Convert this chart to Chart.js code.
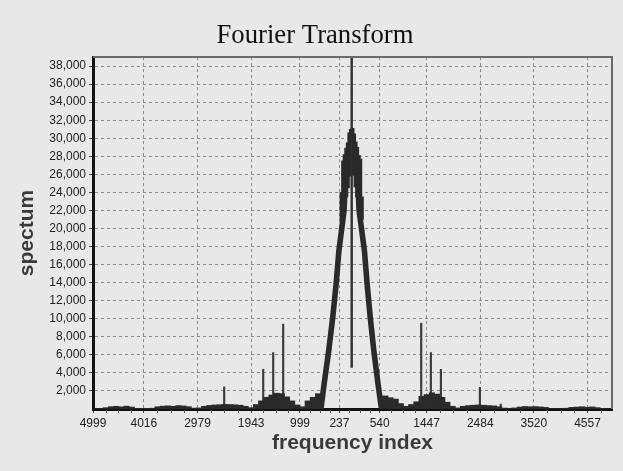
<!DOCTYPE html>
<html>
<head>
<meta charset="utf-8">
<script src="https://cdn.jsdelivr.net/npm/chart.js@4.4.1/dist/chart.umd.min.js"></script>
<style>
    html, body { margin: 0; padding: 0; background: #e8e8e8; }
</style>
</head>
<body>
<canvas id="chart" width="623" height="471"></canvas>
<script>
// --- Data ---
// x is a signed frequency index (left half = negative), labels show |index|
const xTickIdx = [-4999, -4016, -2979, -1943, -999, -237, 540, 1447, 2484, 3520, 4557];
const xTickLabels = ['4999', '4016', '2979', '1943', '999', '237', '540', '1447', '2484', '3520', '4557'];
const yTickVals = [2000, 4000, 6000, 8000, 10000, 12000, 14000, 16000, 18000, 20000,
    22000, 24000, 26000, 28000, 30000, 32000, 34000, 36000, 38000];

// noise floor: bins of 100 index, height = envelope of the spectrum
const floorIdx = [
    -4950, -4850, -4750, -4650, -4550, -4450, -4350, -4250, -4150, -4050,
    -3950, -3850, -3750, -3650, -3550, -3450, -3350, -3250, -3150, -3050,
    -2950, -2850, -2750, -2650, -2550, -2450, -2350, -2250, -2150, -2050,
    -1950, -1850, -1750, -1650, -1550, -1450, -1350, -1250, -1150, -1050,
    -950, -850, -750, -650,
    650, 750, 850, 950, 1050, 1150, 1250, 1350, 1450, 1550, 1650,
    1750, 1850, 1950, 2050, 2150, 2250, 2350, 2450, 2550, 2650,
    2750, 2850, 2950, 3050, 3150, 3250, 3350, 3450, 3550, 3650,
    3750, 3850, 3950, 4050, 4150, 4250, 4350, 4450, 4550, 4650,
    4750, 4850, 4950
];
const floorPeak = [
    40, 60, 150, 260, 300, 240, 320, 220, 80, 60,
    70, 90, 250, 320, 350, 300, 380, 340, 260, 100,
    120, 300, 400, 450, 480, 520, 500, 470, 420, 300,
    150, 500, 900, 1300, 1550, 1750, 1700, 1350, 900, 450,
    250, 900, 1300, 1700,
    1450, 1250, 1100, 600, 300, 500, 800, 1400, 1600, 1800, 1650,
    1300, 750, 300, 120, 300, 380, 420, 450, 420, 380,
    350, 250, 100, 80, 120, 220, 280, 250, 270, 230,
    180, 60, 50, 70, 90, 180, 220, 250, 200, 230,
    150, 60, 40
];

// flanks of the main lobe (centre of the thick noisy trace)
const leftWallIdx = [-595, -532, -444, -367, -300, -247, -148, -124];
const leftWallVal = [0, 2820, 6480, 10130, 13900, 17550, 21980, 25000];
const rightWallIdx = [576, 508, 427, 359, 297, 246, 143, 122];
const rightWallVal = [0, 2820, 6480, 10130, 13900, 17550, 21980, 25000];

// top of the lobe: bins of 30 index, min and max of the trace
const capIdx = [-210, -180, -150, -120, -90, -60, -30, 30, 60, 90, 120, 150, 180, 210];
const capLow = [21000, 22000, 22500, 23000, 23500, 24500, 25800, 25900, 24600, 23500, 23000, 22500, 22000, 21000];
const capHigh = [24000, 27500, 28200, 28900, 29500, 30600, 31000, 31100, 30500, 29600, 29000, 28100, 27700, 23500];

// narrow tones
const spikeIdx = [-2464, -1710, -1517, -1324, 1343, 1530, 1724, 2477, 2880];
const spikePeak = [2450, 4400, 6250, 9400, 9500, 6250, 4400, 2400, 550];

// DC line in the middle
const dcIdx = [0];
const dcLow = [4600];
const dcHigh = [39000];

// --- Helpers ---
function fmtThousands(v) {
    return String(v).replace(/\B(?=(\d{3})+(?!\d))/g, ',');
}

const TRACE = '#2a2a2a';

const chartFrame = {
    id: 'chartFrame',
    beforeDraw(chart) {
        const ctx = chart.ctx;
        ctx.save();
        ctx.fillStyle = '#e8e8e8';
        ctx.fillRect(0, 0, chart.width, chart.height);
        ctx.restore();
    },
    afterDraw(chart) {
        const { ctx, chartArea: a } = chart;
        const xs = chart.scales.x;
        ctx.save();
        // top / right outline of the plot
        ctx.strokeStyle = '#6a6a6a';
        ctx.lineWidth = 2;
        ctx.beginPath();
        ctx.moveTo(a.left, a.top);
        ctx.lineTo(a.right, a.top);
        ctx.lineTo(a.right, a.bottom);
        ctx.stroke();

        // minor tick marks under the x axis
        ctx.strokeStyle = '#555';
        ctx.lineWidth = 1;
        const px = xTickIdx.map(v => xs.getPixelForValue(v));
        ctx.beginPath();
        for (let i = 0; i < px.length - 1; i++) {
            const step = (px[i + 1] - px[i]) / 4;
            for (let k = 1; k < 4; k++) {
                const x = Math.round(px[i] + step * k) + 0.5;
                ctx.moveTo(x, a.bottom + 1);
                ctx.lineTo(x, a.bottom + 4);
            }
        }
        const last = (px[px.length - 1] - px[px.length - 2]) / 4;
        for (let x = px[px.length - 1] + last; x < a.right; x += last) {
            ctx.moveTo(Math.round(x) + 0.5, a.bottom + 1);
            ctx.lineTo(Math.round(x) + 0.5, a.bottom + 4);
        }
        ctx.stroke();
        ctx.restore();
    }
};

const tickFont = { family: "'Liberation Sans', Arial, sans-serif", size: 12 };
const axisTitleFont = { family: "'Liberation Sans', Arial, sans-serif", size: 21, weight: 'bold' };

function wallSet(idx, val) {
    return {
        type: 'line',
        data: idx.map((x, i) => ({ x, y: val[i] })),
        borderColor: TRACE,
        borderWidth: 5.6,
        borderJoinStyle: 'round',
        pointRadius: 0,
        tension: 0,
        fill: false,
        clip: 0
    };
}

new Chart(document.getElementById('chart'), {
    type: 'bar',
    data: {
        datasets: [
            {
                label: 'floor',
                data: floorIdx.map((x, i) => ({ x, y: [0, floorPeak[i]] })),
                backgroundColor: TRACE,
                barThickness: 5.4,
                stack: 'trace',
                clip: 0
            },
            wallSet(leftWallIdx, leftWallVal),
            wallSet(rightWallIdx, rightWallVal),
            {
                label: 'cap',
                data: capIdx.map((x, i) => ({ x, y: [capLow[i], capHigh[i]] })),
                backgroundColor: TRACE,
                barThickness: 1.8,
                stack: 'trace',
                clip: 0
            },
            {
                label: 'tones',
                data: spikeIdx.map((x, i) => ({ x, y: [0, spikePeak[i]] })),
                backgroundColor: '#3c3c3c',
                barThickness: 1.5,
                stack: 'trace',
                clip: 0
            },
            {
                label: 'dc',
                data: dcIdx.map((x, i) => ({ x, y: [dcLow[i], dcHigh[i]] })),
                backgroundColor: '#333',
                barThickness: 1.8,
                stack: 'trace',
                clip: 0
            }
        ]
    },
    options: {
        responsive: false,
        animation: false,
        events: [],
        layout: { padding: { left: 18, right: 11, top: 0, bottom: 0 } },
        plugins: {
            legend: { display: false },
            tooltip: { enabled: false },
            title: {
                display: true,
                text: 'Fourier Transform',
                color: '#111',
                font: { family: "'Liberation Serif', 'DejaVu Serif', serif", size: 26.7, weight: 'normal' },
                padding: { top: 20, bottom: 5 }
            }
        },
        scales: {
            x: {
                type: 'linear',
                min: -4999,
                max: 5030,
                offset: false,
                afterBuildTicks: scale => {
                    scale.ticks = xTickIdx.map(v => ({ value: v }));
                },
                afterFit: scale => { scale.height = 62; },
                ticks: {
                    autoSkip: false,
                    maxRotation: 0,
                    padding: 3,
                    color: '#222',
                    font: tickFont,
                    callback: (v, i) => xTickLabels[i]
                },
                grid: {
                    offset: false,
                    color: '#8a8a8a',
                    tickColor: '#444',
                    tickLength: 4,
                    tickBorderDash: []
                },
                border: { color: '#111', width: 3, dash: [3, 3] },
                title: {
                    display: true,
                    text: 'frequency index',
                    color: '#3a3a3a',
                    font: axisTitleFont,
                    padding: { top: 0, bottom: 15 }
                }
            },
            y: {
                min: 0,
                max: 39000,
                stacked: false,
                afterBuildTicks: scale => {
                    scale.ticks = yTickVals.map(v => ({ value: v }));
                },
                afterFit: scale => { scale.width = 75; },
                ticks: {
                    autoSkip: false,
                    padding: 3,
                    color: '#222',
                    font: tickFont,
                    callback: v => fmtThousands(v)
                },
                grid: {
                    color: '#8a8a8a',
                    tickColor: '#444',
                    tickLength: 4,
                    tickBorderDash: []
                },
                border: { color: '#111', width: 3, dash: [3, 3] },
                title: {
                    display: true,
                    text: 'spectum',
                    color: '#3a3a3a',
                    font: axisTitleFont,
                    padding: { top: -3, bottom: 0 }
                }
            }
        }
    },
    plugins: [chartFrame]
});
</script>
</body>
</html>
